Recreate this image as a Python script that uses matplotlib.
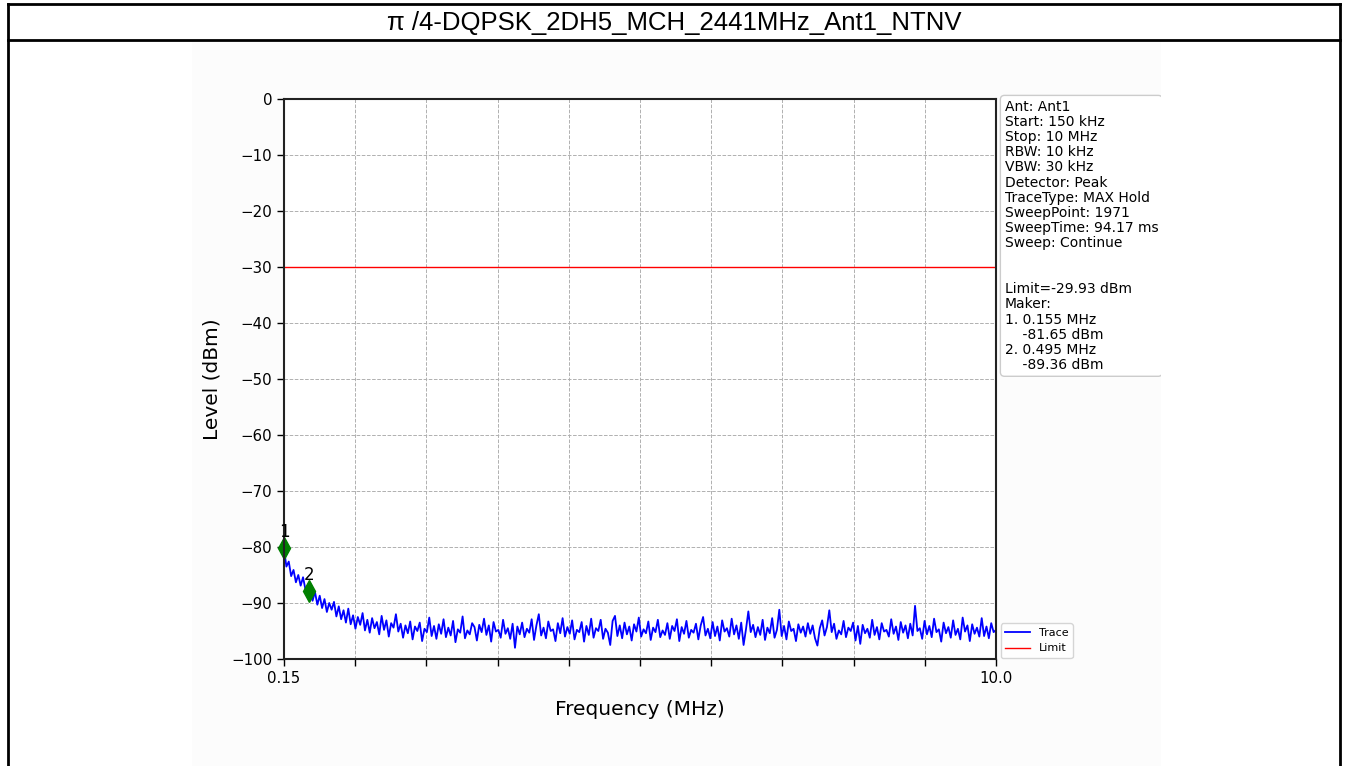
"""Conducted emission trace, pi/4-DQPSK 2DH5 middle channel, Ant1."""

import numpy as np
import matplotlib
matplotlib.use('Agg')
import matplotlib.pyplot as plt
from matplotlib.lines import Line2D
from matplotlib.patches import Rectangle


TITLE = 'π /4-DQPSK_2DH5_MCH_2441MHz_Ant1_NTNV'
F_START = 0.15
F_STOP = 10.0
LIMIT = -29.93

# trace levels in dBm (evenly spaced sweep points)
TRACE = [
    -80.3, -83.5, -82.6, -85.2, -84.1, -86.3, -85.0, -86.9, -85.4, -87.6,
    -88.4, -87.1, -89.6, -88.0, -90.3, -88.7, -90.9, -89.3, -91.6, -90.0,
    -91.2, -89.8, -92.4, -90.6, -92.9, -91.3, -93.5, -91.0, -93.8, -92.2,
    -94.6, -92.5, -93.9, -91.8, -94.9, -93.0, -95.3, -92.7, -94.5, -93.4,
    -95.6, -92.3, -94.8, -93.1, -96.0, -93.6, -94.4, -92.0, -95.1, -93.7,
    -96.2, -94.0, -95.4, -93.3, -96.5, -94.2, -95.0, -93.5, -96.8, -94.6,
    -95.2, -92.6, -95.9, -94.1, -96.4, -93.8, -95.5, -92.9, -96.1, -94.4,
    -95.8, -93.2, -97.0, -94.7, -95.3, -92.4, -96.3, -94.9, -95.6, -93.6,
    -94.3, -96.7, -93.9, -95.2, -92.8, -95.7, -94.0, -96.9, -93.4, -95.1,
    -94.8, -96.2, -93.0, -95.5, -94.5, -96.4, -93.7, -98.0, -94.2, -95.6,
    -93.5, -96.1, -94.6, -95.3, -92.9, -96.6, -94.0, -92.0, -95.8, -94.4,
    -96.3, -93.3, -95.0, -94.7, -96.8, -93.6, -95.4, -92.7, -96.0, -94.3,
    -95.5, -93.1, -96.5, -94.8, -95.2, -93.4, -96.9, -94.1, -95.7, -92.8,
    -96.2, -94.5, -95.0, -93.0, -96.4, -94.6, -95.3, -97.5, -93.2, -92.3,
    -95.9, -94.0, -96.3, -93.5, -95.6, -94.2, -96.7, -93.8, -95.1, -92.6,
    -96.0, -94.7, -95.4, -93.3, -96.6, -94.4, -95.2, -93.0, -96.1, -94.9,
    -95.7, -93.6, -96.4, -94.1, -95.0, -92.9, -96.8, -94.3, -95.5, -93.2,
    -96.2, -94.8, -95.3, -93.7, -96.5, -94.0, -92.5, -95.8, -94.6, -96.3,
    -93.4, -95.9, -94.2, -96.7, -93.1, -95.1, -94.5, -96.0, -92.8, -95.6,
    -94.0, -96.4, -93.5, -97.5, -94.7, -91.5, -95.2, -93.9, -96.1, -94.3,
    -95.7, -93.0, -96.6, -94.4, -95.4, -92.7, -96.2, -94.8, -91.2, -95.9,
    -94.1, -96.5, -93.3, -95.0, -94.6, -96.8, -93.8, -95.3, -94.2, -96.0,
    -93.6, -95.5, -94.0, -96.3, -97.6, -94.5, -93.1, -95.8, -94.3, -91.3,
    -95.2, -93.7, -96.4, -94.9, -95.6, -93.2, -96.1, -94.4, -95.0, -93.5,
    -96.7, -94.1, -97.3, -93.9, -95.4, -94.6, -96.2, -93.0, -95.7, -94.3,
    -96.5, -93.6, -95.1, -94.8, -96.0, -92.9, -95.5, -94.2, -96.6, -93.4,
    -95.3, -94.0, -96.3, -93.7, -95.8, -90.5, -95.0, -94.5, -96.4, -93.2,
    -95.6, -94.1, -96.1, -92.8, -95.2, -94.7, -96.9, -93.5, -95.4, -94.3,
    -96.2, -93.1, -95.7, -94.6, -96.5, -92.6, -95.1, -94.0, -96.8, -93.8,
    -95.5, -94.4, -96.0, -92.7, -95.9, -94.2, -96.3, -93.6, -95.2, -94.8,
]

MARKER_FREQ = [0.155, 0.495]
MARKER_LEVEL = [-80.2, -87.8]
MARKER_LABELS = ['1', '2']

INFO = [
    'Ant: Ant1',
    'Start: 150 kHz',
    'Stop: 10 MHz',
    'RBW: 10 kHz',
    'VBW: 30 kHz',
    'Detector: Peak',
    'TraceType: MAX Hold',
    'SweepPoint: 1971',
    'SweepTime: 94.17 ms',
    'Sweep: Continue',
    '',
    '',
    'Limit=-29.93 dBm',
    'Maker:',
    '1. 0.155 MHz',
    '    -81.65 dBm',
    '2. 0.495 MHz',
    '    -89.36 dBm',
]

W, H = 1346, 766


def px(x, y):
    """Pixel position (from top-left) to figure fraction."""
    return x / W, 1 - y / H


def main():
    fig = plt.figure(figsize=(W / 100, H / 100), dpi=100)
    fig.patch.set_facecolor('white')

    # slightly grey inner image area
    x0, y0 = px(192, 766)
    fig.add_artist(Rectangle((x0, y0), (1161 - 192) / W, (766 - 42) / H,
                             transform=fig.transFigure, facecolor='#fcfcfc',
                             edgecolor='none', zorder=-5))

    left, top = px(284, 99)
    right, bottom = px(996, 659)
    ax = fig.add_axes([left, bottom, right - left, top - bottom])
    ax.set_facecolor('white')

    freq = np.linspace(F_START, F_STOP, len(TRACE))
    ax.plot(freq, TRACE, color='blue', lw=1.3, label='Trace')
    ax.axhline(LIMIT, color='red', lw=1.0, label='Limit')
    ax.plot(MARKER_FREQ, MARKER_LEVEL, 'd', color='green', ms=11, clip_on=False)
    for f, lv, lab in zip(MARKER_FREQ, MARKER_LEVEL, MARKER_LABELS):
        ax.annotate(lab, (f, lv), xytext=(0, 5), textcoords='offset points',
                    ha='center', va='bottom', fontsize=12)

    ax.set_xlim(F_START, F_STOP)
    ax.set_ylim(-100, 0)
    ax.set_yticks(np.arange(-100, 1, 10))
    xt = np.linspace(F_START, F_STOP, 11)
    ax.set_xticks(xt)
    ax.set_xticklabels(['0.15'] + [''] * 9 + ['10.0'])
    ax.tick_params(labelsize=10.8, length=5, width=1)
    ax.grid(True, ls='--', lw=0.7, color='#b0b0b0')
    for s in ax.spines.values():
        s.set_linewidth(1.5)
        s.set_color('#222222')

    ax.set_xlabel('Frequency (MHz)', fontsize=14.5, labelpad=10)
    ax.set_ylabel('Level (dBm)', fontsize=14.5, labelpad=7)

    ax.legend(loc='lower left', bbox_to_anchor=(1.002, -0.004), fontsize=8,
              handlelength=2.2, borderaxespad=0.3)

    ax.text(1.012, 0.999, '\n'.join(INFO), transform=ax.transAxes,
            ha='left', va='top', fontsize=10, linespacing=1.11,
            bbox=dict(boxstyle='round,pad=0.3', fc='white', ec='#cccccc'))

    # clip everything past the inner image on the right
    cx, cy = px(1161, 766)
    fig.add_artist(Rectangle((cx, cy), (1339 - 1161) / W, (766 - 41) / H,
                             transform=fig.transFigure, facecolor='white',
                             edgecolor='none', zorder=5))

    # outer frame and title bar
    frame = [((8, 8), (4, 766)), ((8, 1340), (4, 4)), ((1340, 1340), (4, 766)),
             ((8, 1340), (40, 40))]
    for xs, ys in frame:
        fig.add_artist(Line2D([x / W for x in xs], [1 - y / H for y in ys],
                              transform=fig.transFigure, color='black',
                              lw=2, zorder=6))
    tx, ty = px(674, 23)
    fig.text(tx, ty, TITLE, ha='center', va='center', fontsize=18.5,
             family=['Liberation Sans', 'DejaVu Sans'])

    fig.savefig('out.png', dpi=100)


if __name__ == '__main__':
    main()
